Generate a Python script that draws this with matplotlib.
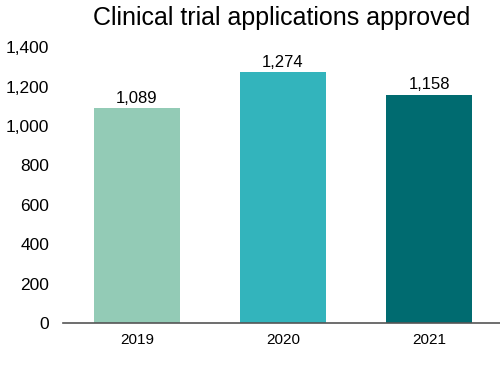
import matplotlib
matplotlib.use("Agg")
import matplotlib.pyplot as plt

# data
years = ["2019", "2020", "2021"]
approved = [1089, 1274, 1158]
bar_colors = ["#93cbb6", "#33b4bc", "#006b70"]

plt.rcParams['font.family'] = ['Liberation Sans', 'DejaVu Sans']

fig = plt.figure(figsize=(5, 3.68), dpi=100)
ax = fig.add_axes([0.126, 0.122, 0.874, 0.750])

x = range(len(years))
bars = ax.bar(x, approved, width=0.59, color=bar_colors)

# value labels above bars
for b, v in zip(bars, approved):
    ax.text(b.get_x() + b.get_width() / 2, v + 12, f"{v:,}",
            ha="center", va="bottom", fontsize=12)

ax.set_xticks(list(x))
ax.set_xticklabels(years, fontsize=11)
ax.set_xlim(-0.507, 2.486)
ax.set_ylim(0, 1400)
ax.set_yticks(range(0, 1401, 200))
ax.set_yticklabels([f"{t:,}" for t in range(0, 1401, 200)], fontsize=12.5)
ax.tick_params(axis="both", length=0)
ax.tick_params(axis="y", pad=10)
ax.tick_params(axis="x", pad=7)

for side in ["top", "right", "left"]:
    ax.spines[side].set_visible(False)
ax.spines["bottom"].set_color("#555555")
ax.spines["bottom"].set_linewidth(1.2)

fig.text(0.563, 0.950, "Clinical trial applications approved",
         ha="center", va="center", fontsize=18)

fig.savefig("out.png", dpi=100)
